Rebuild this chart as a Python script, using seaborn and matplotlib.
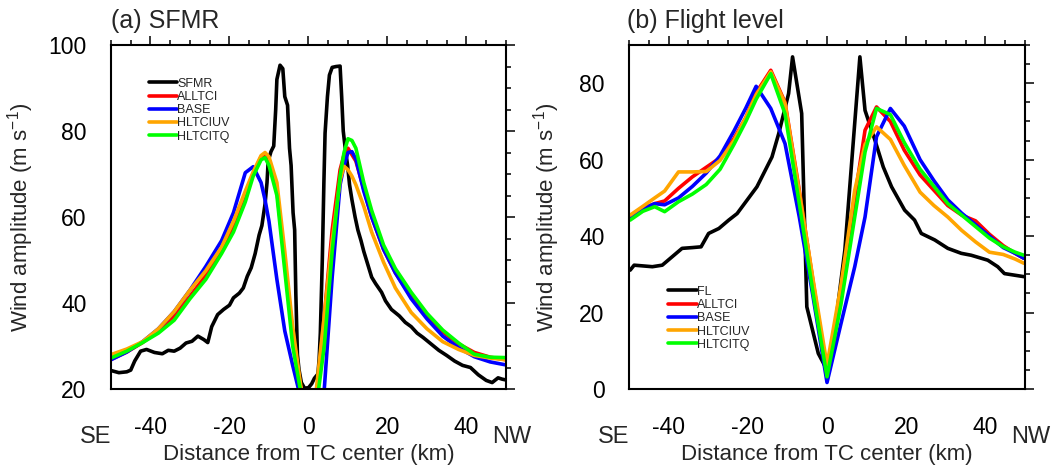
import numpy as np
import pandas as pd
import seaborn as sns
import matplotlib.pyplot as plt
from matplotlib.ticker import MultipleLocator

# ---- panel (a): SFMR surface winds ----
sfmr_x = [-50, -48, -46, -45, -44, -42.5, -41, -39, -37, -35.5, -34, -32.5, -31, -29.5,
          -28, -26.5, -25.5, -24.5, -23, -21.5, -20, -19, -17.5, -16.5, -15.5, -14.5,
          -13.5, -12.5, -11.8, -11, -10.5, -10.2, -9.5, -8.8, -8.3, -8, -7.2, -6.5, -6,
          -5.3, -4.8, -4.4, -3.9, -3.5, -3.2, -2.8, -2.4, -1.8, -1, 0, 0.8, 1.5, 2.4,
          2.7, 3.0, 3.5, 3.9, 4.2, 4.8, 5.3, 6, 7, 8, 8.4, 8.8, 9.3, 9.9, 10.4, 11,
          11.8, 12.5, 13.3, 14, 15, 16, 17, 18.5, 19.5, 21, 23, 24.5, 26, 27.5, 29, 31,
          33, 35, 37, 39, 41, 43, 45, 46.5, 48, 49, 50]
sfmr_y = [24.3, 23.8, 24.0, 24.4, 26.5, 28.8, 29.2, 28.5, 28.2, 29.0, 28.8, 29.5, 30.7,
          31.1, 32.3, 31.5, 30.8, 34.5, 37.3, 38.5, 39.5, 41.2, 42.3, 43.5, 46.2, 48.2,
          51.5, 55.8, 58.0, 63.0, 68.0, 73.0, 75.2, 76.5, 85.0, 92.0, 95.3, 94.5, 88.0,
          86.0, 76.0, 72.0, 61.0, 57.0, 42.0, 28.0, 24.5, 21.5, 20.2, 20.3, 21.2, 22.5,
          23.5, 27.0, 33.0, 50.0, 68.0, 79.5, 88.0, 93.0, 94.8, 95.0, 95.1, 88.0, 80.0,
          76.0, 72.0, 67.5, 64.0, 60.0, 57.0, 54.5, 52.0, 49.0, 46.0, 44.5, 42.5, 40.5,
          38.5, 37.0, 35.5, 34.5, 33.0, 32.0, 30.5, 29.0, 27.8, 26.5, 25.5, 25.0, 23.3,
          22.0, 21.5, 22.6, 22.3, 22.1]

sim_a_x = [-50, -46, -42, -38, -34, -30, -26, -22, -19, -16, -14, -12, -11, -10, -8, -6,
           -4, -2, 0, 2, 4, 6, 8, 9, 10, 11, 12, 14, 16, 19, 22, 26, 30, 34, 38, 42, 46, 50]
alltci_a = [26.9, 28.6, 30.8, 33.5, 37.0, 41.5, 46.5, 52.5, 58.0, 65.5, 70.0, 74.0, 74.5,
            73.3, 66.0, 50.0, 33.0, 20.5, 12.0, 18.0, 37.0, 57.0, 71.0, 74.5, 76.0, 74.5,
            73.0, 66.5, 60.0, 52.5, 47.0, 41.5, 37.0, 33.3, 30.5, 28.5, 27.4, 26.8]
base_a = [26.8, 28.6, 31.0, 34.0, 38.0, 43.0, 48.5, 54.5, 61.0, 70.3, 71.7, 68.0, 64.0,
          59.0, 45.5, 33.5, 25.5, 18.0, 10.0, 12.0, 20.0, 46.0, 67.5, 72.0, 75.0, 75.2,
          73.5, 66.0, 60.0, 52.5, 47.0, 41.0, 36.3, 32.3, 29.6, 27.5, 26.3, 25.6]
hltciuv_a = [28.0, 29.3, 31.0, 34.0, 38.0, 43.0, 47.5, 53.0, 59.0, 66.0, 70.5, 74.3, 75.0,
             74.0, 68.0, 52.0, 34.5, 21.0, 12.0, 20.0, 37.0, 54.5, 68.5, 71.8, 71.0, 69.5,
             67.5, 62.5, 56.5, 49.5, 43.5, 37.8, 34.0, 31.0, 29.2, 27.8, 27.2, 26.8]
hltcitq_a = [27.2, 28.8, 30.8, 33.0, 36.0, 41.0, 45.5, 51.5, 56.5, 63.5, 69.5, 73.3, 73.8,
             72.0, 65.0, 47.5, 30.0, 19.5, 12.0, 16.0, 30.0, 52.0, 69.5, 75.0, 78.2, 77.8,
             76.0, 68.0, 61.5, 53.5, 48.0, 42.5, 37.6, 33.7, 30.7, 28.1, 27.4, 27.3]

# ---- panel (b): flight level winds ----
fl_x = [-49.7, -48.7, -44.1, -41.6, -39.1, -36.6, -34, -31.8, -29.9, -27.3, -24.8, -22.7,
        -20.2, -17.7, -13.9, -12.2, -9.7, -8.7, -6.4, -5.1, -2.2, 0, 1.2, 4.5, 8.3, 9.6,
        12.1, 14.2, 16.3, 19.6, 22.1, 23.8, 27.2, 30.5, 33.9, 36.4, 40.6, 43.1, 44.8, 49.7]
fl_y = [31.1, 32.4, 32.0, 32.4, 34.6, 36.8, 37.0, 37.2, 40.7, 42.0, 44.2, 45.9, 49.4, 52.9,
        60.7, 66.8, 77.3, 86.9, 72.1, 21.5, 9.3, 5.0, 9.3, 36.3, 86.9, 72.9, 65.1, 58.1,
        52.9, 46.8, 44.2, 40.7, 39.0, 36.8, 35.5, 35.0, 33.7, 32.0, 30.2, 29.4]

sim_b_x = [-49.7, -46.5, -43.5, -41, -37.5, -34, -30.5, -27, -23.5, -20.5, -17.9, -14.2,
           -10.6, -7, -3.5, 0, 3.5, 7, 9.6, 12.5, 16, 19.5, 23.5, 27, 30.5, 34, 37.5, 41,
           44.5, 47.5, 49.7]
alltci_b = [45.0, 47.0, 48.5, 49.2, 52.5, 55.5, 58.0, 60.5, 65.5, 71.0, 77.5, 83.4, 75.0,
            52.0, 28.0, 4.1, 26.0, 50.0, 67.7, 73.8, 70.0, 62.5, 56.0, 52.0, 48.0, 45.5,
            44.0, 40.5, 37.5, 35.5, 34.2]
base_b = [45.0, 47.3, 48.5, 48.2, 50.0, 53.0, 56.5, 61.0, 67.5, 73.5, 79.2, 73.4, 64.2,
          45.0, 24.0, 1.7, 17.0, 32.0, 45.0, 66.0, 73.4, 68.8, 60.0, 54.5, 49.5, 46.0,
          43.0, 40.0, 37.0, 35.5, 34.2]
hltciuv_b = [45.5, 47.8, 50.0, 51.8, 56.8, 56.8, 56.9, 59.8, 65.0, 71.0, 77.0, 83.0, 74.7,
             51.5, 28.5, 6.3, 27.0, 52.0, 64.0, 68.6, 65.3, 58.5, 51.5, 48.0, 45.0, 41.5,
             38.5, 35.8, 35.2, 34.0, 32.9]
hltcitq_b = [44.2, 46.5, 47.7, 46.4, 49.0, 51.0, 53.5, 57.5, 64.0, 70.0, 75.8, 82.5, 72.0,
             48.5, 25.0, 3.2, 22.0, 45.0, 62.0, 73.4, 71.8, 64.5, 57.5, 53.0, 48.5, 45.5,
             42.5, 39.5, 37.2, 35.8, 35.0]

exp_names = ['ALLTCI', 'BASE', 'HLTCIUV', 'HLTCITQ']
exp_colors = ['#ff0000', '#0000ff', '#ffa500', '#00ff00']

sns.set_style('white')
plt.rcParams['font.family'] = ['Liberation Sans', 'DejaVu Sans']
plt.rcParams['mathtext.fontset'] = 'custom'
plt.rcParams['mathtext.rm'] = 'Liberation Sans'
plt.rcParams['mathtext.it'] = 'Liberation Sans:italic'
plt.rcParams['axes.unicode_minus'] = False

fig = plt.figure(figsize=(10.55, 4.67), dpi=100)
ax_a = fig.add_axes([0.1052, 0.167, 0.3744, 0.7366])
ax_b = fig.add_axes([0.5962, 0.167, 0.3754, 0.7366])


def draw_panel(ax, obs_x, obs_y, obs_name, sim_x, sims):
    sns.lineplot(x=obs_x, y=obs_y, ax=ax, color='black', lw=2.6, label=obs_name,
                 estimator=None, sort=False)
    for name, col, vals in zip(exp_names, exp_colors, sims):
        sns.lineplot(x=sim_x, y=vals, ax=ax, color=col, lw=2.6, label=name,
                     estimator=None, sort=False)


draw_panel(ax_a, sfmr_x, sfmr_y, 'SFMR', sim_a_x,
           [alltci_a, base_a, hltciuv_a, hltcitq_a])
draw_panel(ax_b, fl_x, fl_y, 'FL', sim_b_x,
           [alltci_b, base_b, hltciuv_b, hltcitq_b])

ax_a.set_ylim(20, 100)
ax_b.set_ylim(0, 90)
ax_a.text(0, 1.035, '(a) SFMR', transform=ax_a.transAxes, fontsize=18,
          ha='left', va='bottom')
ax_b.text(-0.005, 1.035, '(b) Flight level', transform=ax_b.transAxes, fontsize=18,
          ha='left', va='bottom')

for ax, lab_x, leg_anchor in [(ax_a, -0.19, (0.095, 0.905)), (ax_b, -0.17, (0.098, 0.30))]:
    ax.set_xlim(-50, 50)
    ax.xaxis.set_minor_locator(MultipleLocator(5))
    ax.yaxis.set_major_locator(MultipleLocator(20))
    ax.yaxis.set_minor_locator(MultipleLocator(5))
    ax.set_xticks([-40, -20, 0, 20, 40])
    ax.tick_params(which='both', direction='out', top=True, right=True,
                   width=1.1, colors='black')
    ax.tick_params(which='major', length=6.5, labelsize=16.5)
    ax.tick_params(which='minor', length=3.5)
    ax.tick_params(axis='y', which='major', pad=11)
    ax.tick_params(axis='x', which='major', pad=13)
    for sp in ax.spines.values():
        sp.set_linewidth(1.5)
        sp.set_color('black')
    ax.set_xlabel('Distance from TC center (km)', fontsize=16)
    ax.xaxis.set_label_coords(0.5, -0.16)
    ax.set_ylabel('Wind amplitude (m s$^{-1}$)', fontsize=16)
    ax.yaxis.set_label_coords(lab_x, 0.5)
    ax.text(0, -0.14, 'SE', transform=ax.transAxes, fontsize=17, ha='right', va='center')
    ax.text(0.965, -0.14, 'NW', transform=ax.transAxes, fontsize=17, ha='left', va='center')
    ax.legend(loc='upper left', bbox_to_anchor=leg_anchor, frameon=False, fontsize=9,
              handlelength=2.3, handletextpad=0.0, labelspacing=0.1, borderpad=0,
              borderaxespad=0)

fig.savefig('out.png', dpi=100)
